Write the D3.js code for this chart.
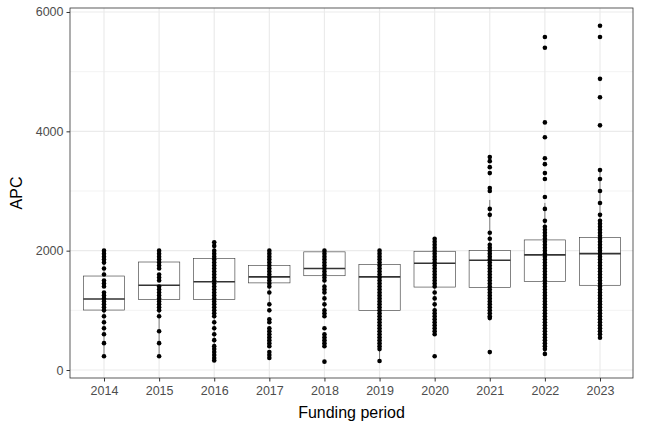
<!DOCTYPE html>
<html><head><meta charset="utf-8">
<script src="https://cdn.jsdelivr.net/npm/d3@7"></script>
<style>body{margin:0;background:#fff}text{font-family:"Liberation Sans",Arial,sans-serif}</style>
</head><body><svg id="c" width="648" height="432"></svg>
<script>
const years = ["2014","2015","2016","2017","2018","2019","2020","2021","2022","2023"];
// box stats: [lowerWhisker, q1, median, q3, upperWhisker]
const boxStats = [
  [230,1005,1190,1575,2000],[230,1180,1420,1810,2000],[160,1180,1480,1870,2140],
  [1080,1460,1560,1750,2000],[1000,1580,1700,1980,2000],[150,1000,1560,1770,2000],
  [600,1390,1790,1990,2220],[870,1380,1840,2000,2850],[270,1480,1930,2180,2800],
  [540,1420,1950,2220,3350]
];
const points = [
  [230,450,600,700,800,900,1000,1050,1100,1150,1200,1250,1300,1400,1450,1500,1600,1700,1800,1850,1900,1950,2000],
  [230,450,650,900,1000,1050,1100,1150,1200,1250,1300,1350,1400,1500,1550,1600,1700,1750,1800,1850,1900,1950,2000],
  [160,200,250,300,350,400,500,600,700,800,900,950,1000,1050,1100,1150,1200,1250,1300,1350,1400,1450,1500,1550,1600,1650,1700,1750,1800,1850,1900,1950,2000,2080,2140],
  [200,250,300,400,450,500,550,600,650,700,800,850,1000,1100,1300,1400,1450,1500,1550,1600,1650,1700,1750,1800,1850,1900,1950,2000],
  [140,400,450,500,550,600,700,900,950,1000,1100,1200,1300,1350,1400,1500,1550,1600,1650,1700,1750,1800,1850,1900,1950,2000],
  [150,350,400,450,500,550,600,650,700,750,800,850,900,950,1000,1050,1100,1150,1200,1250,1300,1350,1400,1450,1500,1550,1600,1650,1700,1750,1800,1850,1900,1950,2000],
  [230,600,650,700,750,800,850,900,950,1000,1100,1200,1300,1400,1450,1500,1550,1600,1650,1700,1750,1800,1850,1900,1950,2000,2050,2100,2150,2200],
  [300,870,900,950,1000,1050,1100,1150,1200,1250,1300,1350,1400,1450,1500,1550,1600,1650,1700,1750,1800,1850,1900,1950,2000,2050,2100,2200,2300,2600,2700,3000,3050,3300,3400,3500,3570],
  [270,350,400,450,500,550,600,650,700,750,800,850,900,950,1000,1050,1100,1150,1200,1250,1300,1350,1400,1450,1500,1550,1600,1650,1700,1750,1800,1850,1900,1950,2000,2050,2100,2150,2200,2250,2300,2350,2400,2500,2700,2900,3200,3300,3450,3550,3900,4150,5400,5580],
  [540,600,650,700,750,800,850,900,950,1000,1050,1100,1150,1200,1250,1300,1350,1400,1450,1500,1550,1600,1650,1700,1750,1800,1850,1900,1950,2000,2050,2100,2150,2200,2250,2300,2350,2400,2450,2500,2600,2800,3000,3200,3350,4100,4570,4880,5580,5770]
];
const yTicks = [0,2000,4000,6000];

const svg = d3.select("#c");
const m = {l:70, r:15, t:8, b:54};
const W = 648, H = 432;
const x = d3.scalePoint().domain(years).range([104, 600]);
const y = d3.scaleLinear().domain([-134, 6067]).range([H-m.b, m.t]);

const g = svg.append("g");
[1000,3000,5000].forEach(v => g.append("line").attr("x1",m.l).attr("x2",W-m.r)
  .attr("y1",y(v)).attr("y2",y(v)).attr("stroke","#ebebeb").attr("stroke-width",0.6));
yTicks.forEach(v => g.append("line").attr("x1",m.l).attr("x2",W-m.r)
  .attr("y1",y(v)).attr("y2",y(v)).attr("stroke","#ebebeb").attr("stroke-width",1.2));
years.forEach(yr => { const cx = x(yr);
  g.append("line").attr("x1",cx).attr("x2",cx).attr("y1",m.t).attr("y2",H-m.b)
   .attr("stroke","#ebebeb").attr("stroke-width",1.2); });

const bw = x.step()*0.75;
years.forEach((yr,i) => {
  const [lo,q1,md,q3,hi] = boxStats[i];
  const cx = x(yr);
  g.append("line").attr("x1",cx).attr("x2",cx).attr("y1",y(lo)).attr("y2",y(q1)).attr("stroke","#333").attr("stroke-width",0.6);
  g.append("line").attr("x1",cx).attr("x2",cx).attr("y1",y(q3)).attr("y2",y(hi)).attr("stroke","#333").attr("stroke-width",0.6);
  g.append("rect").attr("x",cx-bw/2).attr("width",bw).attr("y",y(q3)).attr("height",y(q1)-y(q3))
   .attr("fill","white").attr("stroke","#333").attr("stroke-width",0.6);
  g.append("line").attr("x1",cx-bw/2).attr("x2",cx+bw/2).attr("y1",y(md)).attr("y2",y(md)).attr("stroke","#333").attr("stroke-width",1.6);
  g.selectAll(null).data(points[i]).join("circle").attr("cx",cx).attr("cy",d=>y(d)).attr("r",2.3).attr("fill","black");
});

svg.append("rect").attr("x",m.l).attr("y",m.t).attr("width",W-m.l-m.r).attr("height",H-m.t-m.b)
  .attr("fill","none").attr("stroke","#333").attr("stroke-width",0.8);

const ax = svg.append("g").attr("transform",`translate(0,${H-m.b})`).call(d3.axisBottom(x).tickSize(3.5));
ax.select(".domain").remove();
ax.selectAll("text").attr("fill","#4d4d4d").attr("font-size",12.5).attr("dy","0.85em");
ax.selectAll("line").attr("stroke","#333");
const ay = svg.append("g").attr("transform",`translate(${m.l},0)`).call(d3.axisLeft(y).tickValues(yTicks).tickFormat(d3.format("d")).tickSize(3.5));
ay.select(".domain").remove();
ay.selectAll("text").attr("fill","#4d4d4d").attr("font-size",12.5);
ay.selectAll("line").attr("stroke","#333");

svg.append("text").attr("x",(m.l+W-m.r)/2).attr("y",418).attr("text-anchor","middle").attr("font-size",16).text("Funding period");
svg.append("text").attr("transform",`translate(22,${(m.t+H-m.b)/2}) rotate(-90)`).attr("text-anchor","middle").attr("font-size",16).text("APC");
</script></body></html>
